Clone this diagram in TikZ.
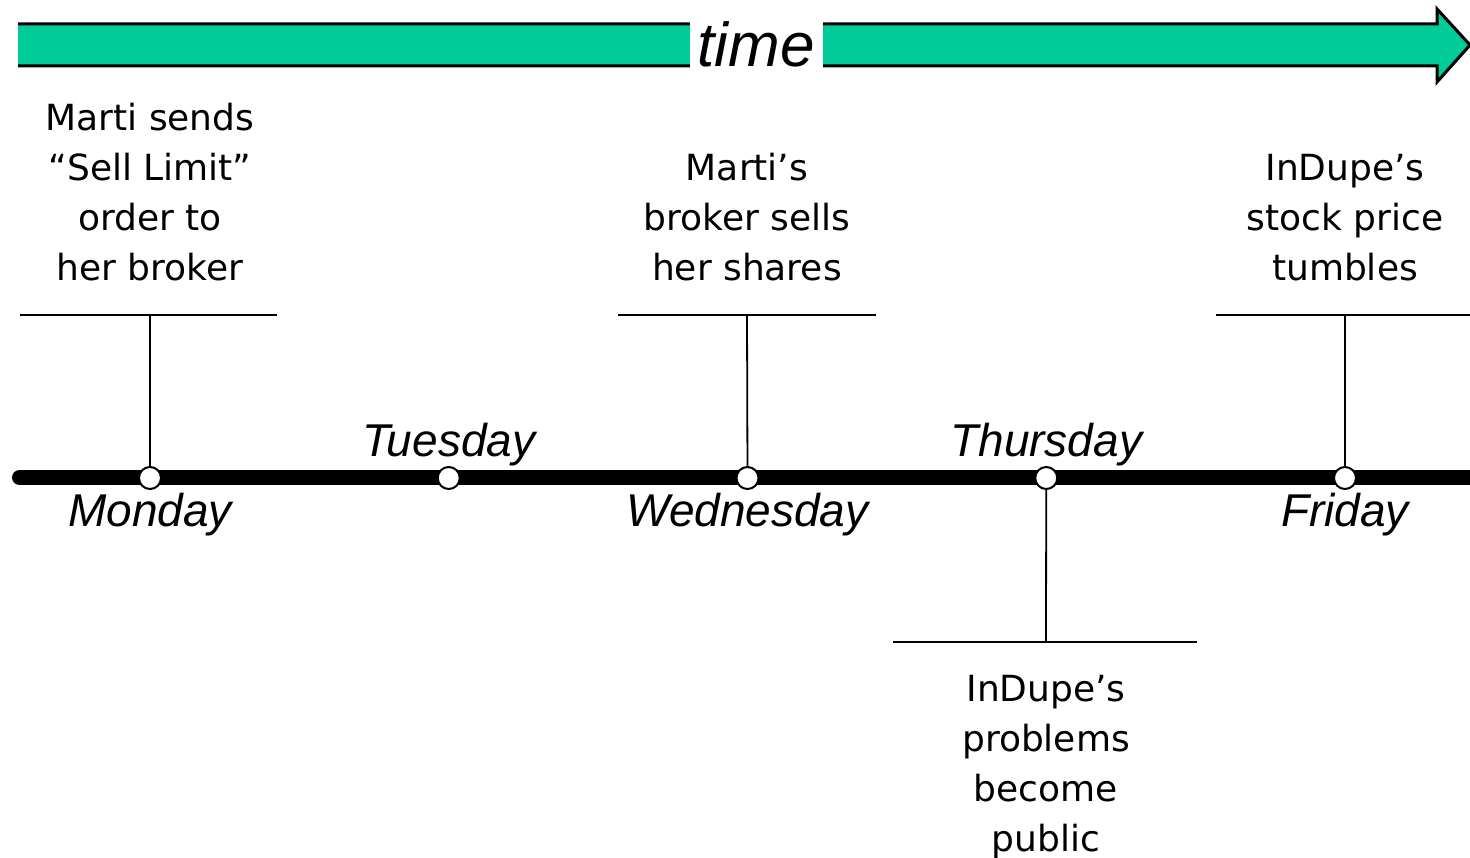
\documentclass[tikz,border=0pt]{standalone}
\usepackage{fontspec}
\setmainfont{Liberation Sans}
\newfontfamily\eventfont{DejaVu Sans}
\usetikzlibrary{positioning}
\definecolor{timegreen}{HTML}{00CC99}
\tikzset{day dot/.style={circle,draw,fill=white,line width=2pt,minimum size=22pt,inner sep=0pt} }
\tikzset{day label/.style={inner sep=0pt,font=\fontsize{46}{50}\selectfont\itshape} }
\tikzset{event text/.style={inner sep=0pt,align=center,font=\eventfont\fontsize{36}{50}\selectfont} }
\tikzset{event line/.style={line width=1.8pt} }

\begin{document}
\begin{tikzpicture}[x=1pt,y=-1pt]
\useasboundingbox (0,0) rectangle (1470,858);

  % the big time arrow
  \fill[timegreen] (18,24) -- (1437,24) -- (1437,9) -- (1470,45) -- (1437,82) -- (1437,66) -- (18,66) -- cycle;
  \draw[line width=3pt] (18,24) -- (1437,24) -- (1437,9) -- (1470,45) -- (1437,82) -- (1437,66) -- (18,66);
  \node[fill=white,minimum width=133pt,minimum height=52pt,inner sep=0pt,
        font=\fontsize{62}{64}\selectfont\itshape] (time) at (756,44) {time};

  % the week
  \coordinate (start) at (19.5,477.5);
  \coordinate (end) at (1490,477.5);
  \draw[line width=15pt,line cap=round] (start) -- (end);

\begin{scope}[on grid]
  \node[day dot] (mon) at (150,478) {};
  \node[day dot] (tue) [right =298.75pt of mon] {};
  \node[day dot] (wed) [right =298.75pt of tue] {};
  \node[day dot] (thu) [right =298.75pt of wed] {};
  \node[day dot] (fri) [right =298.75pt of thu] {};
\end{scope}

  \node[day label] (monlbl) [below =3pt of mon] {Monday};
  \node[day label] (tuelbl) [above =0pt of tue] {Tuesday};
  \node[day label] (wedlbl) [below =3pt of wed] {Wednesday};
  \node[day label] (thulbl) [above =0pt of thu] {Thursday};
  \node[day label] (frilbl) [below =3pt of fri] {Friday};

  % events
  \coordinate (monbar) at (150,315);
  \coordinate (monbarL) at (20,315);
  \coordinate (monbarR) at (277,315);
  \coordinate (wedbar) at (747,315);
  \coordinate (wedbarL) at (618,315);
  \coordinate (wedbarR) at (876,315);
  \coordinate (fribar) at (1345,315);
  \coordinate (fribarL) at (1216,315);
  \coordinate (fribarR) at (1480,315);
  \coordinate (thubar) at (1046,642);
  \coordinate (thubarL) at (893,642);
  \coordinate (thubarR) at (1197,642);

  \draw[event line] (mon) -- (monbar);
  \draw[event line] (monbarL) -- (monbarR);
  \draw[event line] (wed) -- (wedbar);
  \draw[event line] (wedbarL) -- (wedbarR);
  \draw[event line] (fri) -- (fribar);
  \draw[event line] (fribarL) -- (fribarR);
  \draw[event line] (thu) -- (thubar);
  \draw[event line] (thubarL) -- (thubarR);

  \node[event text] (monev) [above =34pt of monbar] {Marti sends\\“Sell Limit”\\order to\\her broker};
  \node[event text] (wedev) [above =34pt of wedbar] {Marti’s\\broker sells\\her shares};
  \node[event text] (friev) [above =34pt of fribar] {InDupe’s\\stock price\\tumbles};
  \node[event text] (thuev) [below =33pt of thubar] {InDupe’s\\problems\\become\\public};
\end{tikzpicture}
\end{document}
